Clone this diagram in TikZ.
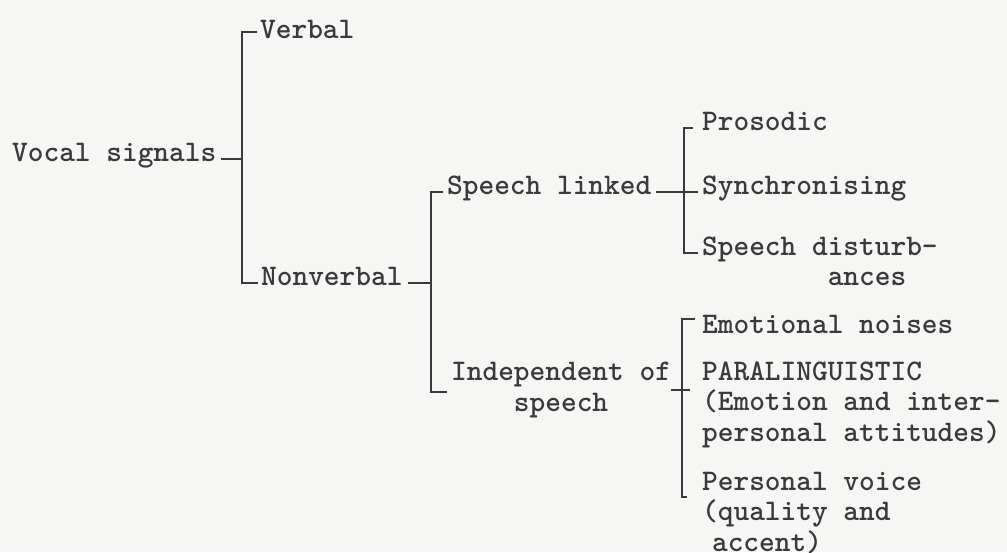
\documentclass[tikz,border=0pt]{standalone}
\usepackage{tikz}
\definecolor{paper}{RGB}{246,246,244}
\definecolor{ink}{RGB}{58,58,58}

\begin{document}
\begin{tikzpicture}[x=1pt, y=-1pt,
    item/.style={anchor=base west, inner sep=0pt, text=ink,
      font=\fontsize{29.9}{30.5}\selectfont\ttfamily\bfseries},
    brace/.style={draw=ink, line width=1.6pt}]
    \path[use as bounding box, fill=paper] (0,0) rectangle (1007,552);
    % the labels, typed as on the sheet (base = last line)
    \node[item] (vocal)        at (12, 161) {Vocal signals};
    \node[item] (verbal)       at (260, 38) {Verbal};
    \node[item] (nonverbal)    at (261,285) {Nonverbal};
    \node[item] (speechlinked) at (447,194) {Speech linked};
    \node[item, align=center] (independent) at (451,411) {Independent of\\speech};
    \node[item] (prosodic)     at (702,130) {Prosodic};
    \node[item] (synchron)     at (702,194) {Synchronising};
    \node[item, align=left] (disturb) at (702,285.5) {Speech disturb-\\\phantom{xxxxxxxx}ances};
    \node[item] (emotional)    at (702,333) {Emotional noises};
    \node[item, align=left] (paraling) at (702,441) {PARALINGUISTIC\\(Emotion and inter-\\personal attitudes)};
    \node[item, align=left] (personal) at (702,551) {Personal voice\\(quality and\\\hspace*{0.33em}accent)};
    % Vocal signals
    \draw[brace] ([xshift=5pt]vocal.mid east) -- ([xshift=-18pt]verbal.mid west |- vocal.mid east);
    \draw[brace] ([xshift=-3pt,yshift=4pt]verbal.mid west) -- ++(-15,0) |- ([xshift=-3pt]nonverbal.mid west);
    % Nonverbal
    \draw[brace] ([xshift=5pt]nonverbal.mid east) -- ([xshift=-16pt]speechlinked.mid west |- nonverbal.mid east);
    \draw[brace] ([xshift=-4pt]speechlinked.mid west) -- ++(-12,0) |- ([xshift=-4pt,yshift=19pt]independent.base west);
    % Speech linked
    \draw[brace] ([xshift=5pt]speechlinked.mid east) -- ([xshift=-4pt]synchron.mid west);
    \draw[brace] ([xshift=-9pt]prosodic.mid west) -- ++(-9,0) |- ([xshift=-4pt,yshift=30.5pt]disturb.mid west);
    % Independent of speech
    \draw[brace] (independent.east) -- ([xshift=-12pt]paraling.base west |- independent.east);
    \draw[brace] ([xshift=-7pt,yshift=12pt]emotional.mid west) -- ++(-13,0) |- ([xshift=-15pt,yshift=54pt]personal.base west);
\end{tikzpicture}
\end{document}
